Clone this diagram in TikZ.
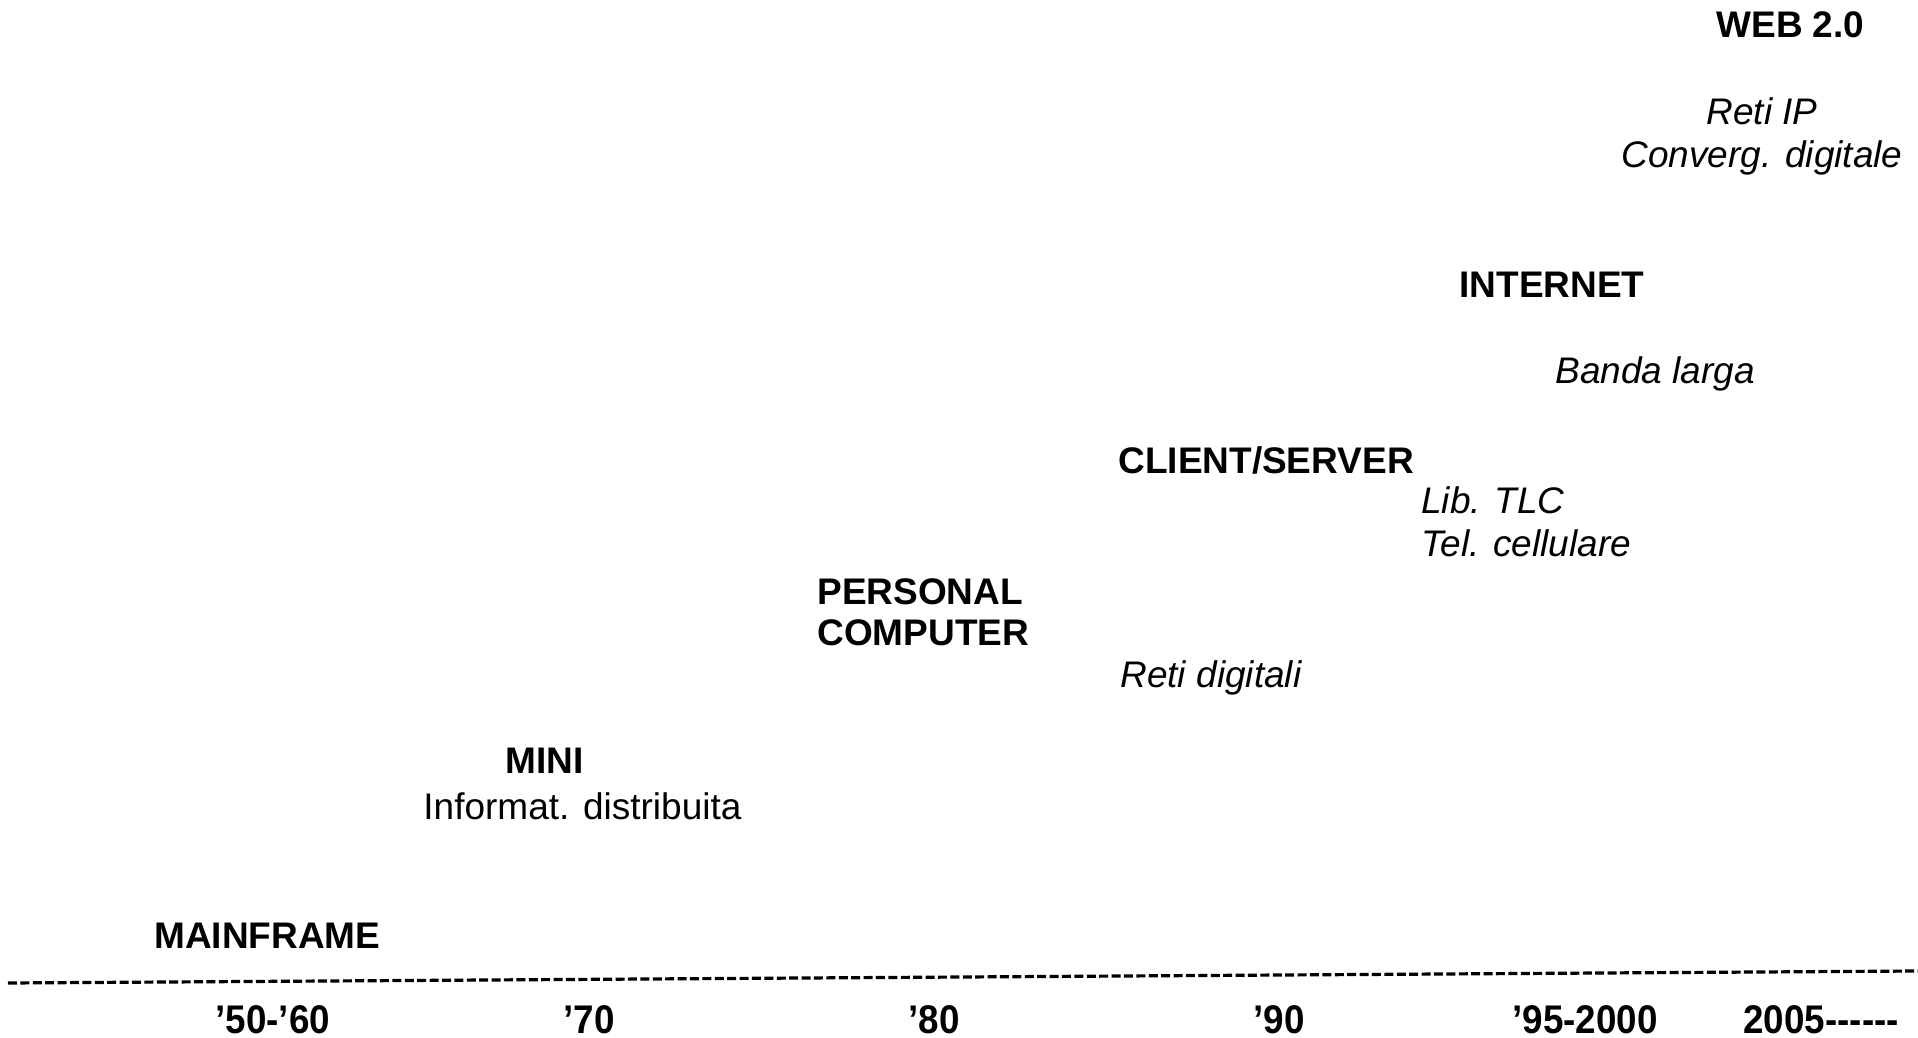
\documentclass[tikz,border=0pt]{standalone}
\usepackage{fontspec}
\setmainfont{Liberation Sans}
\newfontfamily\yearfont[FakeStretch=0.92]{Liberation Sans}
\usetikzlibrary{positioning}

\tikzset{
    era/.style={anchor=north west, inner sep=0pt, align=left,
        font=\fontsize{18.5}{21}\selectfont\bfseries},
    tech/.style={anchor=north west, inner sep=0pt, align=left,
        font=\fontsize{18.5}{21.5}\selectfont\itshape},
    note/.style={anchor=north west, inner sep=0pt,
        font=\fontsize{18.5}{21.5}\selectfont},
    year/.style={anchor=north west, inner sep=0pt,
        font=\yearfont\fontsize{20}{24}\selectfont\bfseries},
    timeline/.style={line width=1.6pt, dash pattern=on 4.5pt off 1.7pt}
}

\begin{document}
\begin{tikzpicture}[x=0.5pt, y=-0.5pt]
        \useasboundingbox (0,0) rectangle (1918,1038);

        % eras
        \node[era] (web) at (1716, 11) {WEB 2.0};
        \node[tech, anchor=north, align=center] (retiip) at (1762, 97) {Reti IP\\Converg. digitale};
        \node[era] (internet) at (1459, 272) {INTERNET};
        \node[tech] (banda) at (1555, 356) {Banda larga};
        \node[era] (client) at (1118, 446) {CLIENT/SERVER};
        \node[tech] (tlc) at (1421, 486) {Lib. TLC\\Tel. cellulare};
        \node[era, font=\fontsize{18.5}{20.5}\selectfont\bfseries] (pc) at (817, 578) {PERSONAL\\COMPUTER};
        \node[tech] (digitali) at (1120, 660) {Reti digitali};
        \node[era] (mini) at (505, 748) {MINI};
        \node[note] (distrib) at (423, 792) {Informat. distribuita};
        \node[era] (mainframe) at (154, 923) {MAINFRAME};

        % time axis
        \coordinate (axisL) at (8, 983);
        \coordinate (axisR) at (1918, 971);
        \draw[timeline] (axisL) -- (axisR);

        \node[year] (y50) at (215, 1005) {’50-’60};
        \node[year] (y70) at (563, 1005) {’70};
        \node[year] (y80) at (908, 1005) {’80};
        \node[year] (y90) at (1253, 1005) {’90};
        \node[year] (y95) at (1512, 1005) {’95-2000};
        \node[year] (y05) at (1743, 1005) {2005------};
    \end{tikzpicture}
\end{document}
